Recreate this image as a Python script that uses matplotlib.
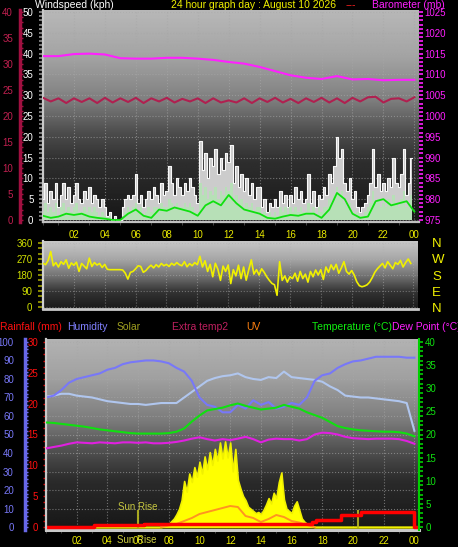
import numpy as np
import matplotlib
matplotlib.use("Agg")
import matplotlib.pyplot as plt
from matplotlib.ticker import MultipleLocator

plt.rcParams['font.family'] = ['Liberation Sans', 'DejaVu Sans']

# ---------------- data ----------------
# 10-minute samples (144 per day)
t10 = np.arange(144) / 6.0
wind_gust = [5, 9, 4, 7, 5, 9,   3, 6, 9, 5, 8, 4,   6, 9, 5, 4, 7, 5,   8, 4, 6, 5, 3, 5,
             3, 1, 2, 0, 1, 0,   0, 3, 5, 6, 5, 6,   11, 4, 6, 3, 5, 7,  5, 8, 6, 4, 9, 6,
             7, 13, 9, 6, 10, 8, 6, 9, 7, 10, 8, 6, 4, 19, 12, 16, 10, 15, 13, 17, 11, 15, 12, 16,
             14, 18, 9, 13, 8, 11, 7, 10, 6, 9, 5, 8, 8, 3, 5, 2, 4, 3,  5, 3, 7, 4, 6, 3,
             6, 4, 8, 5, 7, 4,   5, 11, 4, 7, 3, 6,  5, 8, 6, 11, 9, 13, 20, 15, 17, 9, 7, 10,
             5, 7, 3, 2, 3, 4,   6, 9, 17, 8, 11, 7, 9, 7, 10, 8, 15, 9, 8, 11, 17, 6, 9, 15]
wind_speed = [2, 4, 2, 3, 2, 4,  1, 3, 4, 2, 3, 2,  3, 4, 2, 2, 3, 2,  3, 2, 3, 2, 1, 2,
              1, 0, 1, 0, 0, 0,  0, 1, 2, 3, 2, 3,  4, 2, 3, 1, 2, 3,  2, 3, 3, 2, 4, 3,
              3, 5, 4, 3, 4, 3,  3, 4, 3, 4, 3, 2,  2, 9, 6, 8, 5, 7,  6, 8, 5, 7, 6, 8,
              7, 9, 4, 6, 4, 5,  3, 4, 3, 4, 2, 3,  3, 1, 2, 1, 2, 1,  2, 1, 3, 2, 3, 1,
              3, 2, 3, 2, 3, 2,  2, 4, 2, 3, 1, 3,  2, 3, 3, 5, 4, 6,  8, 6, 7, 4, 3, 4,
              2, 1, 2, 1, 1, 2,  3, 4, 7, 4, 5, 3,  4, 3, 5, 4, 6, 4,  3, 5, 7, 3, 4, 6]
wind_dir = [246, 238, 262, 312, 232, 250, 225, 255, 240, 265, 218, 248,
            235, 252, 200, 245, 230, 215, 275, 228, 250, 236, 245, 222,
            240, 212, 210, 210, 210, 210, 210, 208, 190, 157, 195, 200,
            215, 232, 228, 195, 205, 222, 235, 220, 238, 225, 245, 232,
            240, 228, 246, 235, 250, 238, 232, 255, 226, 244, 232, 250,
            238, 285, 225, 260, 200, 240, 170, 246, 212, 150, 230, 200,
            236, 132, 210, 175, 235, 160, 225, 151, 210, 265, 185, 210,
            180, 215, 195, 170, 150, 133, 125, 66, 255, 150, 175, 140,
            170, 160, 190, 145, 200, 160, 185, 140, 200, 170, 208, 180,
            210, 155, 225, 195, 237, 210, 240, 190, 220, 255, 200, 185,
            205, 180, 142, 120, 114, 118, 125, 140, 165, 195, 215, 230,
            245, 220, 255, 235, 215, 250, 240, 262, 225, 250, 270, 245]

# half-hour samples (49)
t30 = np.arange(49) * 0.5
wind_avg = [1.0, 0.5, 0.8, 1.5, 1.2, 1.5, 0.8, 0.5, 0.3, 0.0, 0.0, 1.5, 2.5, 1.0, 0.5, 2.5,
            2.2, 3.0, 2.5, 2.0, 1.0, 3.5, 4.5, 3.5, 6.0, 4.0, 2.5, 2.0, 1.5, 0.5, 0.3, 0.8,
            1.2, 1.0, 1.5, 1.5, 0.5, 2.5, 6.5, 5.0, 1.5, 0.5, 0.8, 4.5, 5.0, 3.5, 4.0, 4.5, 2.0]
extra_line = [23.5, 22.8, 23.4, 22.5, 23.4, 22.7, 23.4, 22.5, 23.5, 22.6, 23.4, 22.7, 23.5,
              22.5, 23.4, 22.8, 23.5, 22.6, 23.3, 22.8, 23.4, 22.5, 23.4, 22.6, 23.0, 22.6,
              23.4, 22.5, 23.4, 22.7, 23.5, 22.6, 23.3, 22.5, 23.4, 22.7, 23.5, 22.6, 23.4,
              22.5, 23.5, 22.8, 23.6, 23.7, 22.6, 23.3, 23.4, 22.8, 23.6]
humidity = [70, 71, 74, 78, 80, 81, 82, 83, 85, 86, 88, 89, 89.5, 90, 90, 89.5, 88.5, 86,
            84, 79, 70, 66, 65, 62, 62, 66, 64, 68.5, 66, 67.5, 64, 65, 67, 66, 70, 79, 82,
            83, 86, 88, 89.5, 90, 91, 92, 92, 92, 92, 91.5, 91.5]
humidity_in = [70.5, 71, 72, 72, 71, 70.5, 70, 69, 68, 67.5, 67, 66.5, 66.5, 66, 66.5, 67,
               67, 67, 70, 73, 76, 79, 80.5, 81.5, 82, 83, 81, 80, 79.5, 81, 80.5, 84, 81,
               80.5, 80, 79.5, 78.5, 76, 74, 71, 70.5, 70, 70, 69.5, 69, 68.5, 68, 67, 52]
temperature = [22.6, 22.5, 22.3, 22.1, 21.9, 21.7, 21.4, 21.1, 20.9, 20.7, 20.5, 20.3, 20.2,
               20.2, 20.2, 20.2, 20.3, 20.6, 21.3, 22.8, 24.1, 25.2, 25.5, 25.8, 26.3, 26.7,
               26.2, 25.8, 25.4, 25.6, 25.8, 26.4, 26.0, 25.6, 24.8, 24.2, 23.6, 22.7, 21.8,
               21.4, 21.1, 20.9, 20.8, 20.7, 20.6, 20.6, 20.5, 20.2, 19.6]
dewpoint = [17.0, 17.3, 17.6, 18.0, 18.3, 18.2, 18.1, 18.3, 18.2, 18.1, 18.3, 18.3, 18.2,
            18.3, 18.1, 18.1, 18.2, 18.4, 18.7, 19.1, 19.4, 19.0, 18.7, 19.0, 18.8, 19.1,
            19.5, 19.0, 18.3, 18.9, 19.1, 19.0, 19.0, 18.7, 19.0, 20.0, 20.4, 20.3, 20.0,
            19.5, 19.2, 19.1, 19.0, 19.1, 19.1, 19.1, 19.0, 18.6, 18.0]

# hourly barometer (25)
t60 = np.arange(25)
barometer = [1014.4, 1014.4, 1014.9, 1015.0, 1014.8, 1013.9, 1013.8, 1013.8, 1014.0, 1014.0,
             1013.8, 1013.5, 1013.0, 1012.6, 1011.8, 1010.8, 1009.8, 1009.2, 1008.9, 1009.6,
             1008.8, 1008.9, 1008.6, 1008.7, 1008.7]

# solar (W/m2) 10-min from 07:30 to 17:30, plus day ends
solar_t = [0.0] + list(7.5 + np.arange(61) / 6.0) + [24.0]
solar = [0, 0, 5, 15, 30, 55, 80, 120, 170, 250, 430, 330, 500, 420, 560, 470, 610, 500,
         660, 540, 700, 580, 730, 620, 790, 640, 800, 650, 790, 520, 730, 440, 360, 290,
         250, 190, 170, 150, 130, 140, 120, 160, 210, 270, 220, 320, 270, 420, 510, 260,
         170, 150, 130, 200, 240, 160, 80, 50, 30, 15, 5, 0, 0]
uv_t = [7.5, 8.0, 8.5, 9.0, 9.5, 10.0, 10.5, 11.0, 11.5, 12.0, 12.5, 13.0, 13.5, 14.0,
        14.5, 15.0, 15.5, 16.0, 16.5, 17.0, 17.5]
uv = [0, 0.3, 0.6, 1.2, 1.8, 2.6, 3.0, 3.4, 3.8, 4.2, 4.0, 2.2, 1.8, 1.0, 1.6, 2.4, 2.0,
      1.2, 0.9, 0.4, 0]
rain_t = [0, 3.1, 6.4, 17.3, 17.6, 19.2, 20.5, 23.95, 24.3]
rain = [0, 0.25, 0.45, 0.8, 1.1, 1.9, 2.4, 0, 0]
sun_events = [6.0, 20.3]

x_ticks = [2, 4, 6, 8, 10, 12, 14, 16, 18, 20, 22, 24]
x_labels = ['02', '04', '06', '08', '10', '12', '14', '16', '18', '20', '22', '00']
dir_ticks = [0, 90, 180, 270, 360]
dir_letters = ['N', 'E', 'S', 'W', 'N']

# ---------------- figure ----------------
W, H = 458, 547
fig = plt.figure(figsize=(W / 100, H / 100), dpi=100, facecolor='black')
PX = 0.72  # points per pixel


def box(x0, y0, x1, y1):
    return fig.add_axes([x0 / W, 1 - y1 / H, (x1 - x0) / W, (y1 - y0) / H])


def gradient(ax, stops):
    pos = np.linspace(0, 1, 256)
    vals = np.interp(pos, [s[0] for s in stops], [s[1] for s in stops])
    img = np.repeat(vals[:, None], 2, axis=1)
    ax.imshow(img, extent=[0, 1, 0, 1], transform=ax.transAxes, aspect='auto',
              cmap='gray', vmin=0, vmax=1, zorder=0, interpolation='bilinear')


def hide_spines(ax):
    for s in ax.spines.values():
        s.set_visible(False)


YEL = '#e8e800'
XMAX = 24.3

# ======== top panel: wind + barometer ========
ax_w = box(43, 10, 419, 222)
gradient(ax_w, [(0, 0.72), (0.22, 0.64), (0.42, 0.50), (0.58, 0.30), (0.72, 0.18), (1.0, 0.09)])
ax_w.fill_between(t10, wind_gust, step='mid', color='#cccccc', lw=0, zorder=2)
ax_w.step(t10, wind_gust, where='mid', color='#f8f8f8', lw=0.8, zorder=3)
ax_w.fill_between(t10, wind_speed, step='mid', color='#b4e4b4', alpha=0.85, lw=0, zorder=4)
ax_w.plot(t30, wind_avg, color='#10e010', lw=1.3, zorder=5)
ax_w.set_xlim(0, XMAX)
ax_w.set_ylim(-0.5, 50.5)
ax_w.set_yticks(np.arange(0, 51, 5))
ax_w.yaxis.set_minor_locator(MultipleLocator(1))
ax_w.set_xticks(x_ticks)
ax_w.set_xticklabels(x_labels)
ax_w.xaxis.set_minor_locator(MultipleLocator(1))
ax_w.tick_params(axis='y', which='both', color='#909090', labelcolor='white', labelsize=7,
                 length=4 * PX, width=1.2, pad=4)
ax_w.tick_params(axis='x', which='major', length=0, labelcolor=YEL, labelsize=7, pad=8 * PX)
ax_w.tick_params(axis='x', which='minor', length=3 * PX, color='#505050')
ax_w.grid(axis='both', which='major', color='#a8a8a8', ls=':', lw=0.8, alpha=0.6, zorder=1)
ax_w.set_axisbelow(True)
hide_spines(ax_w)
ax_w.spines['left'].set_visible(True)
ax_w.spines['left'].set_color('#c8c8c8')
ax_w.spines['left'].set_linewidth(1.6)
ax_w.spines['bottom'].set_visible(True)
ax_w.spines['bottom'].set_color('#c0c0c0')
ax_w.spines['bottom'].set_linewidth(1.6)

ax_c = ax_w.twinx()
hide_spines(ax_c)
ax_c.spines['left'].set_visible(True)
ax_c.spines['left'].set_position(('axes', (20 - 43) / 376))
ax_c.spines['left'].set_color('#a01040')
ax_c.spines['left'].set_linewidth(2.5)
ax_c.yaxis.set_ticks_position('left')
ax_c.plot(t30, extra_line, color='#b02050', lw=1.5)
ax_c.set_ylim(-0.4, 40.4)
ax_c.set_yticks(np.arange(0, 41, 5))
ax_c.yaxis.set_minor_locator(MultipleLocator(1))
ax_c.tick_params(axis='y', which='both', direction='in', color='#a01040', labelcolor='#c02050',
                 labelsize=7, length=3 * PX, width=1, pad=5)

ax_b = ax_w.twinx()
hide_spines(ax_b)
ax_b.plot(t60, barometer, color='#ff20ff', lw=1.5)
ax_b.set_ylim(974.5, 1025.5)
ax_b.set_yticks(np.arange(975, 1026, 5))
ax_b.yaxis.set_minor_locator(MultipleLocator(1))
ax_b.tick_params(axis='y', which='both', color='#ff20ff', labelcolor='#ff20ff', labelsize=7,
                 length=3.5 * PX, width=1.2, pad=1.5)

# ======== middle panel: wind direction ========
ax_d = box(43, 241, 418, 309)
gradient(ax_d, [(0, 0.78), (0.25, 0.66), (0.5, 0.46), (0.75, 0.2), (1.0, 0.1)])
ax_d.plot(t10, wind_dir, color='#f0f000', lw=1.2, zorder=3)
ax_d.set_xlim(0, XMAX)
ax_d.set_ylim(-11, 371)
ax_d.set_yticks(dir_ticks)
ax_d.yaxis.set_minor_locator(MultipleLocator(30))
ax_d.set_xticks(x_ticks)
ax_d.tick_params(axis='x', which='both', length=0, labelbottom=False)
ax_d.tick_params(axis='y', which='both', color='#a0a000', labelcolor='#d0e000', labelsize=7,
                 length=5 * PX, width=1.2, pad=4)
ax_d.grid(axis='both', color='#b0b0b0', ls=':', lw=0.8, alpha=0.5, zorder=1)
ax_d.set_axisbelow(True)
hide_spines(ax_d)
ax_d.spines['left'].set_visible(True)
ax_d.spines['left'].set_color('#d0d0d0')
ax_d.spines['left'].set_linewidth(1.6)
ax_d.spines['bottom'].set_visible(True)
ax_d.spines['bottom'].set_color('#c8c8c8')
ax_d.spines['bottom'].set_linewidth(2.0)

ax_dn = ax_d.twinx()
hide_spines(ax_dn)
ax_dn.set_ylim(-11, 371)
ax_dn.set_yticks(dir_ticks)
ax_dn.set_yticklabels(dir_letters)
ax_dn.tick_params(axis='y', length=0, labelcolor='#f0f000', labelsize=9.5, pad=14 * PX)

# ======== bottom panel ========
ax_p = box(46, 339, 419, 530)
gradient(ax_p, [(0, 0.70), (0.2, 0.63), (0.42, 0.49), (0.58, 0.32), (0.74, 0.17), (1.0, 0.09)])
ax_p.plot(t30, humidity_in, color='#b0c6ee', lw=1.5, zorder=3)
ax_p.plot(t30, humidity, color='#7878f8', lw=1.5, zorder=3)
ax_p.set_xlim(0, XMAX)
ax_p.set_ylim(-1.6, 101.6)
ax_p.set_yticks(np.arange(0, 101, 10))
ax_p.yaxis.set_minor_locator(MultipleLocator(2))
ax_p.set_xticks(x_ticks)
ax_p.set_xticklabels(x_labels)
ax_p.xaxis.set_minor_locator(MultipleLocator(1))
ax_p.tick_params(axis='x', which='major', length=0, labelcolor=YEL, labelsize=7, pad=6 * PX)
ax_p.tick_params(axis='x', which='minor', length=3 * PX, color='#505050')
ax_p.tick_params(axis='y', which='both', direction='in', color='#7070f0', labelcolor='#7878f8',
                 labelsize=7, length=3 * PX, width=1, pad=8)
ax_p.grid(axis='both', which='major', color='#a8a8a8', ls=':', lw=0.8, alpha=0.6, zorder=1)
ax_p.set_axisbelow(True)
hide_spines(ax_p)
ax_p.spines['left'].set_visible(True)
ax_p.spines['left'].set_position(('axes', (25 - 46) / 373))
ax_p.spines['left'].set_color('#6868e8')
ax_p.spines['left'].set_linewidth(2.5)
ax_p.spines['bottom'].set_visible(True)
ax_p.spines['bottom'].set_color('#c8c8c8')
ax_p.spines['bottom'].set_linewidth(2.2)

ax_s = ax_p.twinx()
hide_spines(ax_s)
ax_s.fill_between(solar_t, solar, color='#ffff00', lw=1.2, edgecolor='#f0f000')
ax_s.set_ylim(-28, 1757)
ax_s.set_yticks([])
for ts in sun_events:
    ax_s.plot([ts, ts], [0, 150], color='#b8b820', lw=1.5, alpha=0.9)
ax_s.text(sun_events[0], 187, 'Sun Rise', color='#c8c840', fontsize=7, ha='center', va='center')

ax_u = ax_p.twinx()
hide_spines(ax_u)
ax_u.plot(uv_t, uv, color='#ff9420', lw=1.4)
ax_u.set_ylim(-0.6, 37.6)
ax_u.set_yticks([])

ax_r = ax_p.twinx()
hide_spines(ax_r)
ax_r.spines['left'].set_visible(True)
ax_r.spines['left'].set_position(('axes', 0))
ax_r.spines['left'].set_color('#c8c8c8')
ax_r.spines['left'].set_linewidth(1.6)
ax_r.yaxis.set_ticks_position('left')
ax_r.step(rain_t, rain, where='post', color='#ff0000', lw=2.5)
ax_r.set_ylim(-0.49, 30.49)
ax_r.set_yticks(np.arange(0, 31, 5))
ax_r.yaxis.set_minor_locator(MultipleLocator(1))
ax_r.tick_params(axis='y', which='both', color='#e00000', labelcolor='#ff1010', labelsize=7,
                 length=3.5 * PX, width=1, pad=3)

ax_T = ax_p.twinx()
hide_spines(ax_T)
ax_T.spines['right'].set_visible(True)
ax_T.spines['right'].set_color('#00d000')
ax_T.spines['right'].set_linewidth(1.5)
ax_T.plot(t30, temperature, color='#10e010', lw=1.5)
ax_T.plot(t30, dewpoint, color='#e020e0', lw=1.5)
ax_T.set_ylim(-0.65, 40.65)
ax_T.set_yticks(np.arange(0, 41, 5))
ax_T.yaxis.set_minor_locator(MultipleLocator(1))
ax_T.tick_params(axis='y', which='both', color='#00d000', labelcolor='#10e010', labelsize=7,
                 length=3.5 * PX, width=1.2, pad=2)

ax_p.set_xlim(0, XMAX)

# sunrise text on the bottom axis
fig.text(137 / W, 1 - 540 / H, 'Sun Rise', color='#d0d040', fontsize=7, ha='center', va='center')

# ======== titles ========
def ftxt(x, y, s, c, **kw):
    fig.text(x / W, 1 - y / H, s, color=c, fontsize=7.5, ha='left', va='center', **kw)

ftxt(35, 5, 'Windspeed (kph)', 'white')
ftxt(171, 5, '24 hour graph day : August 10 2026', '#f0f000')
ftxt(346, 5, '---', '#ff2020')
ftxt(372, 5, 'Barometer (mb)', '#ff20ff')

ftxt(0, 327, 'Rainfall (mm)', '#ff1010')
ftxt(67, 327, 'Humidity', '#8080ff')
ftxt(117, 327, 'Solar', '#a0a020')
ftxt(172, 327, 'Extra temp2', '#c02060')
ftxt(246, 327, 'UV', '#ff8010')
ftxt(312, 327, 'Temperature (°C)', '#10f010')
ftxt(392, 327, 'Dew Point (°C)', '#ff20ff')

fig.savefig('out.png', dpi=100, facecolor='black')
